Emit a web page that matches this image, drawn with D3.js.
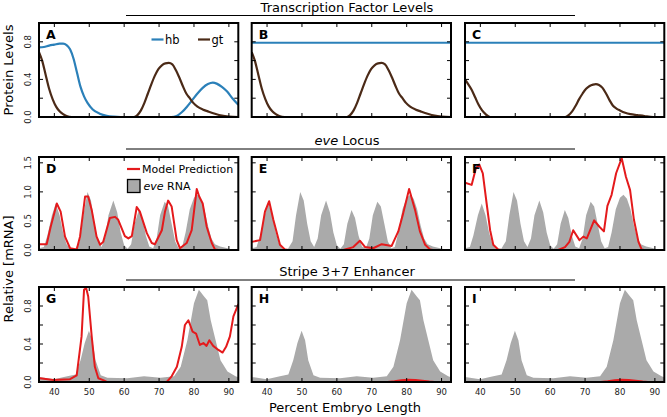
<!DOCTYPE html>
<html><head><meta charset="utf-8">
<script src="https://cdn.jsdelivr.net/npm/d3@7"></script>
<style>body{margin:0;background:#fff}svg{display:block;font-family:"DejaVu Sans",sans-serif}</style>
</head><body><svg id="c" width="667" height="417"></svg>
<script>
// ---------- DATA ----------
const xTicks = [40, 50, 60, 70, 80, 90];
const panelLetters = [["A","B","C"],["D","E","F"],["G","H","I"]];
const rowTitles = ["Transcription Factor Levels", "eve Locus", "Stripe 3+7 Enhancer"];
const yTicksTF = [0, 0.2, 0.4, 0.6, 0.8];
const yLabelsTF = [0, 0.4, 0.8];
const yTicksRNA = [0, 0.5, 1.0, 1.5];
const yLabelsRNA = [0, 0.5, 1.0, 1.5];

const hbA = [[35.6,0.74],[37,0.745],[38.5,0.76],[40,0.77],[41.5,0.78],[42.5,0.78],[43.5,0.765],[44.5,0.72],[45.5,0.62],[46.5,0.47],[47.5,0.32],[48.5,0.22],[49.5,0.15],[51,0.08],[53,0.035],[55,0.012],[57,0.003],[59,0],[73.5,0],[75,0.01],[76.5,0.05],[78,0.11],[79.5,0.18],[81,0.25],[82.5,0.31],[84,0.35],[85.4,0.365],[86.5,0.355],[88,0.32],[89.5,0.27],[91,0.2],[92.7,0.13]];
const hbFlat = [[35.6,0.79],[92.7,0.79]];
const gtA = [[35.6,0.69],[36.5,0.6],[37.5,0.45],[38.5,0.3],[39.5,0.19],[40.5,0.11],[41.5,0.06],[42.5,0.03],[43.5,0.01],[45,0],[62.8,0],[63.8,0.02],[64.8,0.07],[65.8,0.15],[66.8,0.25],[67.8,0.35],[68.8,0.44],[69.8,0.51],[70.8,0.55],[71.8,0.57],[72.8,0.575],[73.8,0.56],[74.8,0.5],[75.8,0.42],[76.8,0.33],[77.8,0.25],[78.8,0.2],[79.8,0.15],[81,0.11],[82.5,0.08],[84,0.06],[86,0.035],[88,0.015],[90,0.005],[92.7,0]];
const gtC = [[35.6,0.40],[36.5,0.35],[37.5,0.29],[38.5,0.21],[39.5,0.13],[40.5,0.07],[41.5,0.03],[42.8,0],[64.3,0],[65.3,0.02],[66.3,0.06],[67.3,0.12],[68.3,0.19],[69.3,0.25],[70.3,0.3],[71.3,0.33],[72.3,0.345],[73.1,0.35],[74,0.34],[75,0.31],[76,0.25],[77,0.18],[78,0.12],[79,0.09],[80,0.07],[81.5,0.045],[83,0.03],[85,0.02],[87,0.01],[89.5,0],[92.7,0]];

const eveRNA = [[35.6,0.03],[37,0.05],[38,0.25],[39.3,0.6],[40.4,0.8],[41.5,0.6],[42.5,0.3],[43.5,0.1],[44.5,0.02],[46,0.02],[47.3,0.15],[48.3,0.6],[49.5,1.0],[50.5,0.85],[51.5,0.45],[52.5,0.15],[53.5,0.05],[54.5,0.2],[55.5,0.6],[56.9,0.85],[58,0.65],[59,0.3],[60,0.08],[61,0.02],[62,0.1],[63,0.45],[64.2,0.69],[65.2,0.55],[66.2,0.25],[67.2,0.06],[68.3,0.03],[69.3,0.2],[70.3,0.6],[71.6,0.83],[72.6,0.75],[73.6,0.45],[74.6,0.15],[75.6,0.03],[76.6,0.05],[77.6,0.3],[78.8,0.7],[80,0.9],[81,0.95],[82,0.88],[83,0.7],[84,0.42],[85,0.2],[86,0.1],[87.5,0.06],[89,0.04],[91,0.01],[92.7,0]];
const modelD = [[35.6,0.10],[37.8,0.10],[38.95,0.40],[40.7,0.80],[41.8,0.66],[43.05,0.23],[44.5,0.03],[46.4,0.01],[47.35,0.23],[48.8,0.92],[49.7,0.92],[50.7,0.69],[52.1,0.23],[53.1,0.09],[54.0,0.14],[55.9,0.55],[57.4,0.57],[58.3,0.52],[60.2,0.24],[61.2,0.20],[62.2,0.24],[63.6,0.74],[64.5,0.66],[66.5,0.29],[67.9,0.12],[68.8,0.10],[70.8,0.34],[71.7,0.66],[72.6,0.85],[73.6,0.75],[75.05,0.17],[76.0,0.03],[77.9,0.12],[79.35,0.34],[80.8,1.05],[81.5,0.92],[82.5,0.80],[83.65,0.40],[85.1,0.12],[86.0,0.01],[87,0],[92.7,0]];
const modelE = [[35.6,0.14],[38.0,0.17],[39.4,0.66],[40.6,0.84],[41.8,0.52],[43.7,0.09],[45.1,0.01],[46,0],[61.85,0],[64.7,0.05],[66.6,0.16],[68.1,0.05],[70.4,0.03],[72.85,0.10],[75.7,0.07],[77.6,0.32],[79.0,0.63],[80.7,1.05],[82.4,0.69],[83.8,0.32],[85.3,0.09],[86.7,0.01],[87.5,0],[92.7,0]];
const modelF = [[35.6,1.16],[37.5,1.12],[38.75,1.41],[39.7,1.47],[40.7,1.32],[41.8,0.80],[42.8,0.34],[43.7,0.09],[45.1,0.01],[46,0],[62.3,0],[64.25,0.05],[65.5,0.14],[66.6,0.34],[68.4,0.17],[69.5,0.23],[70.5,0.20],[72.6,0.51],[74.1,0.40],[75.4,0.32],[76.4,0.76],[77.6,0.95],[78.9,1.32],[80.5,1.58],[81.7,1.26],[82.9,1.03],[84.0,0.52],[85.3,0.14],[86.2,0.01],[87,0],[92.7,0]];

const stripeRNA = [[35.6,0.05],[36.1,0.05],[39.9,0.03],[43.7,0.06],[46.1,0.08],[47.5,0.23],[48.7,0.41],[49.9,0.54],[50.9,0.44],[51.8,0.23],[53.3,0.07],[55.2,0.045],[60.9,0.04],[65.7,0.06],[70.4,0.045],[74.3,0.06],[76.2,0.16],[78.1,0.44],[80.0,0.83],[81.4,0.97],[82.9,0.90],[83.8,0.86],[84.8,0.65],[86.2,0.44],[87.6,0.23],[89.6,0.11],[91.9,0.06],[92.7,0.05]];
const modelG = [[35.6,0.04],[35.9,0.04],[39.7,0.02],[44.5,0.03],[46.4,0.07],[47.8,0.48],[48.5,0.97],[49.1,0.99],[49.7,0.90],[50.7,0.48],[51.6,0.16],[52.6,0.04],[54.0,0.02],[55,0],[72.2,0],[73.6,0.06],[75.1,0.16],[76.5,0.37],[77.4,0.60],[78.4,0.65],[79.6,0.53],[80.6,0.51],[81.7,0.39],[82.7,0.41],[83.6,0.38],[84.4,0.44],[85.5,0.38],[86.9,0.34],[88.2,0.31],[89.2,0.37],[90.3,0.48],[91.3,0.69],[92.4,0.79],[92.7,0.82]];
const modelH = [[74.5,0],[76.5,0.008],[78.5,0.018],[80.5,0.024],[82.5,0.022],[84.5,0.014],[86.5,0.005],[88,0]];
const modelI = [[74.5,0],[76.5,0.008],[78.5,0.018],[80.5,0.024],[82.5,0.022],[84.5,0.014],[86.5,0.005],[88,0]];

// ---------- LAYOUT ----------
const svg = d3.select("#c");
const colX = [39, 251.7, 465], panelW = 199.3;
const rows = [
  {y0: 23, y1: 117, dom: [0, 1.0], ticks: yTicksTF, labels: yLabelsTF},
  {y0: 157, y1: 250, dom: [0, 1.6], ticks: yTicksRNA, labels: yLabelsRNA},
  {y0: 287, y1: 382, dom: [0, 1.0], ticks: yTicksTF, labels: yLabelsTF}
];
const C = {hb: "#2b80b9", gt: "#4b2a17", red: "#e41a1c", gray: "#aaaaaa"};
const font = '"DejaVu Sans", sans-serif';

const panelsData = [
  [{lines: [[hbA, C.hb], [gtA, C.gt]]}, {lines: [[hbFlat, C.hb], [gtA, C.gt]]}, {lines: [[hbFlat, C.hb], [gtC, C.gt]]}],
  [{area: eveRNA, model: modelD}, {area: eveRNA, model: modelE}, {area: eveRNA, model: modelF}],
  [{area: stripeRNA, model: modelG}, {area: stripeRNA, model: modelH}, {area: stripeRNA, model: modelI}]
];

const defs = svg.append("defs");
rows.forEach((r, ri) => {
  colX.forEach((cx, ci) => {
    const x = d3.scaleLinear().domain([35.6, 92.7]).range([cx, cx + panelW]);
    const y = d3.scaleLinear().domain(r.dom).range([r.y1, r.y0]);
    const id = "clip" + ri + ci;
    defs.append("clipPath").attr("id", id).append("rect")
      .attr("x", cx).attr("y", r.y0).attr("width", panelW).attr("height", r.y1 - r.y0);
    const g = svg.append("g");
    const pg = g.append("g").attr("clip-path", `url(#${id})`);
    const pd = panelsData[ri][ci];
    if (pd.lines) {
      const line = d3.line().x(d => x(d[0])).y(d => y(d[1])).curve(d3.curveMonotoneX);
      pd.lines.forEach(([data, col]) => {
        pg.append("path").attr("d", line(data)).attr("fill", "none")
          .attr("stroke", col).attr("stroke-width", 2.2);
      });
    } else {
      const area = d3.area().x(d => x(d[0])).y0(y(0)).y1(d => y(d[1]));
      pg.append("path").attr("d", area(pd.area)).attr("fill", C.gray);
      const line = d3.line().x(d => x(d[0])).y(d => y(d[1]));
      pg.append("path").attr("d", line(pd.model)).attr("fill", "none")
        .attr("stroke", C.red).attr("stroke-width", 2).attr("stroke-linejoin", "round");
    }
    // inward ticks
    const tl = 4;
    xTicks.forEach(t => {
      g.append("line").attr("x1", x(t)).attr("x2", x(t)).attr("y1", r.y1).attr("y2", r.y1 - tl).attr("stroke", "#000");
      g.append("line").attr("x1", x(t)).attr("x2", x(t)).attr("y1", r.y0).attr("y2", r.y0 + tl).attr("stroke", "#000");
    });
    r.ticks.forEach(t => {
      g.append("line").attr("x1", cx).attr("x2", cx + tl).attr("y1", y(t)).attr("y2", y(t)).attr("stroke", "#000");
      g.append("line").attr("x1", cx + panelW).attr("x2", cx + panelW - tl).attr("y1", y(t)).attr("y2", y(t)).attr("stroke", "#000");
    });
    // frame
    g.append("rect").attr("x", cx).attr("y", r.y0).attr("width", panelW).attr("height", r.y1 - r.y0)
      .attr("fill", "none").attr("stroke", "#000").attr("stroke-width", 2);
    // letter
    g.append("text").attr("x", cx + 7).attr("y", r.y0 + 15.5).text(panelLetters[ri][ci])
      .attr("font-family", font).attr("font-weight", "bold").attr("font-size", 12.5);
    // y labels
    if (ci === 0) {
      r.labels.forEach(t => {
        g.append("text").attr("transform", `translate(31,${y(t)}) rotate(-90)`)
          .attr("text-anchor", "middle").attr("font-size", 8.5).attr("fill", "#222")
          .attr("font-family", font).text(d3.format(".1f")(t));
      });
    }
    if (ri === 2) {
      xTicks.forEach(t => {
        g.append("text").attr("x", x(t)).attr("y", 395).attr("text-anchor", "middle")
          .attr("font-size", 8.5).attr("fill", "#222").attr("font-family", font).text(t);
      });
    }
  });
});

// row titles and lines
const titleY = [12, 145, 276], lineY = [15.5, 149, 280];
rowTitles.forEach((t, i) => {
  svg.append("line").attr("x1", 126).attr("x2", 575).attr("y1", lineY[i]).attr("y2", lineY[i])
    .attr("stroke", "#000").attr("stroke-width", 1);
  const tx = svg.append("text").attr("x", 347).attr("y", titleY[i]).attr("text-anchor", "middle")
    .attr("font-size", 13).attr("font-family", font);
  if (i === 1) {
    tx.append("tspan").attr("font-style", "italic").text("eve");
    tx.append("tspan").text(" Locus");
  } else tx.text(t);
});

// axis titles
svg.append("text").attr("transform", "translate(13,70) rotate(-90)").attr("text-anchor", "middle")
  .attr("font-size", 13).attr("font-family", font).text("Protein Levels");
svg.append("text").attr("transform", "translate(13,269) rotate(-90)").attr("text-anchor", "middle")
  .attr("font-size", 13).attr("font-family", font).text("Relative [mRNA]");
svg.append("text").attr("x", 345).attr("y", 411.5).attr("text-anchor", "middle")
  .attr("font-size", 13).attr("font-family", font).text("Percent Embryo Length");

// legend A
const lg = svg.append("g");
lg.append("line").attr("x1", 151.5).attr("x2", 163.5).attr("y1", 39.5).attr("y2", 39.5).attr("stroke", C.hb).attr("stroke-width", 2.2);
lg.append("text").attr("x", 165).attr("y", 43.5).attr("font-size", 11.5).attr("font-family", font).text("hb");
lg.append("line").attr("x1", 198).attr("x2", 210).attr("y1", 39.5).attr("y2", 39.5).attr("stroke", C.gt).attr("stroke-width", 2.2);
lg.append("text").attr("x", 211.5).attr("y", 43.5).attr("font-size", 11.5).attr("font-family", font).text("gt");
// legend D
lg.append("line").attr("x1", 127).attr("x2", 140).attr("y1", 169).attr("y2", 169).attr("stroke", C.red).attr("stroke-width", 2.2);
lg.append("text").attr("x", 142).attr("y", 173).attr("font-size", 11).attr("font-family", font).text("Model Prediction");
lg.append("rect").attr("x", 127.5).attr("y", 179.5).attr("width", 12.5).attr("height", 13).attr("fill", C.gray).attr("stroke", "#000").attr("stroke-width", 1.3);
const et = lg.append("text").attr("x", 143.5).attr("y", 190).attr("font-size", 11).attr("font-family", font);
et.append("tspan").attr("font-style", "italic").text("eve");
et.append("tspan").text(" RNA");
</script></body></html>
